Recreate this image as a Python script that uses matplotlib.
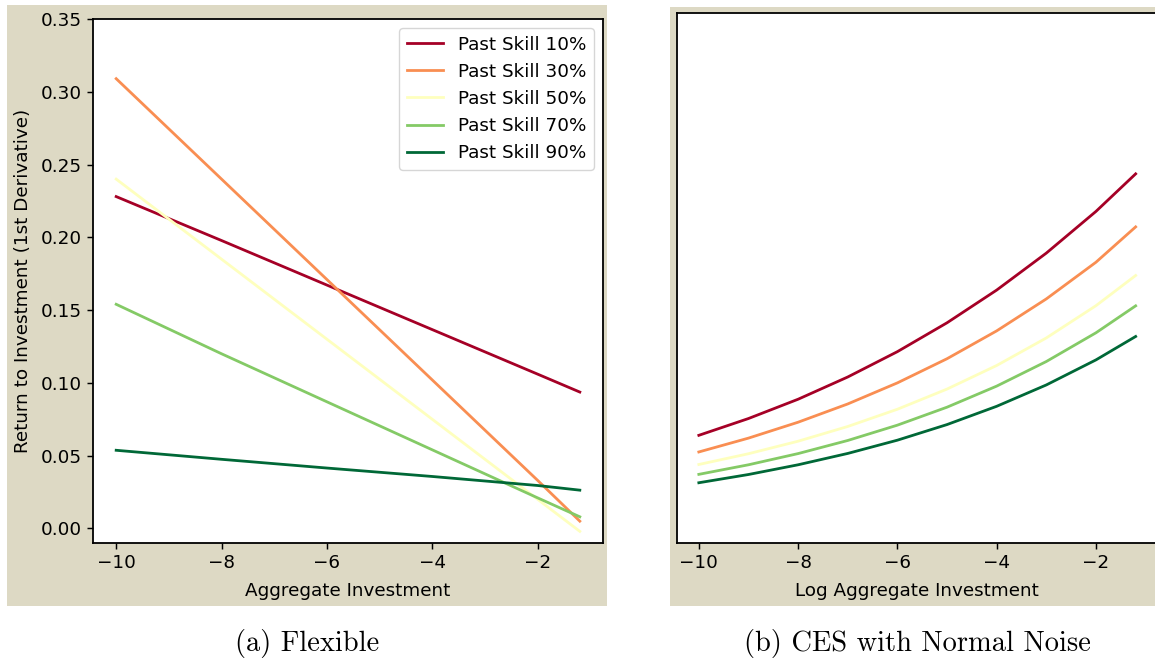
import numpy as np
import matplotlib
matplotlib.use("Agg")
import matplotlib.pyplot as plt
from matplotlib.patches import Rectangle

# ---------------- data ----------------
etiquetas = ["Past Skill 10%", "Past Skill 30%", "Past Skill 50%",
             "Past Skill 70%", "Past Skill 90%"]

# panel (a) Flexible
x_flex = [-10, -8, -6, -4, -2, -1.2]
flex_10 = [0.228, 0.1978, 0.1672, 0.1366, 0.1060, 0.0937]
flex_30 = [0.309, 0.240, 0.171, 0.102, 0.033, 0.005]
flex_50 = [0.240, 0.185, 0.130, 0.075, 0.020, -0.002]
flex_70 = [0.154, 0.120, 0.087, 0.054, 0.021, 0.008]
flex_90 = [0.0537, 0.0475, 0.0415, 0.0357, 0.0295, 0.0263]

# panel (b) CES with Normal Noise
x_ces = [-10, -9, -8, -7, -6, -5, -4, -3, -2, -1.2]
ces_10 = [0.0631, 0.0745, 0.0876, 0.1027, 0.1199, 0.1395, 0.1617, 0.1868, 0.2151, 0.2406]
ces_30 = [0.0518, 0.0612, 0.0720, 0.0844, 0.0987, 0.1151, 0.1340, 0.1557, 0.1806, 0.2046]
ces_50 = [0.0433, 0.0506, 0.0591, 0.0691, 0.0808, 0.0945, 0.1105, 0.1292, 0.1511, 0.1716]
ces_70 = [0.0366, 0.0431, 0.0507, 0.0596, 0.0700, 0.0822, 0.0965, 0.1132, 0.1327, 0.1510]
ces_90 = [0.0309, 0.0365, 0.0431, 0.0508, 0.0598, 0.0704, 0.0828, 0.0973, 0.1143, 0.1302]

colores = plt.cm.RdYlGn(np.linspace(0, 1, 5))
beige = "#ddd9c4"

W, H = 1155, 659
fig = plt.figure(figsize=(W / 100, H / 100), dpi=100)
fig.patch.set_facecolor("white")


def caja(x0, y0, x1, y1):
    # pixel box (top-down) -> figure fraction
    return [x0 / W, 1 - y1 / H, (x1 - x0) / W, (y1 - y0) / H]


# fondos beige de cada panel
for x0, y0, x1, y1 in [(7, 5, 607, 606), (670, 7, 1160, 606)]:
    l, b, w, h = caja(x0, y0, x1, y1)
    fig.patches.append(Rectangle((l, b), w, h, transform=fig.transFigure,
                                 facecolor=beige, edgecolor="none", zorder=-10))

fs = 13.2
lw = 2.0

ax1 = fig.add_axes(caja(93, 19, 603, 543))
ax2 = fig.add_axes(caja(677, 12.7, 1157.5, 543))

for y, c, lab in zip([flex_10, flex_30, flex_50, flex_70, flex_90], colores, etiquetas):
    ax1.plot(x_flex, y, color=c, lw=lw, label=lab)

for y, c in zip([ces_10, ces_30, ces_50, ces_70, ces_90], colores):
    ax2.plot(x_ces, y, color=c, lw=lw)

for ax in (ax1, ax2):
    ax.set_zorder(5)
    ax.set_facecolor("white")
    ax.set_xlim(-10.44, -0.76)
    ax.set_ylim(-0.01, 0.35)
    ax.set_xticks([-10, -8, -6, -4, -2])
    ax.tick_params(labelsize=fs, length=4.6, width=1.05)
    for s in ax.spines.values():
        s.set_linewidth(1.3)

ax1.set_yticks([0.0, 0.05, 0.10, 0.15, 0.20, 0.25, 0.30, 0.35])
ax1.yaxis.set_major_formatter(matplotlib.ticker.FormatStrFormatter("%.2f"))
ax2.set_yticks([])

ax1.set_xlabel("Aggregate Investment", fontsize=fs, labelpad=7)
ax1.set_ylabel("Return to Investment (1st Derivative)", fontsize=fs, labelpad=6)
ax2.set_xlabel("Log Aggregate Investment", fontsize=fs, labelpad=7)

ax1.legend(loc="upper right", fontsize=fs, handlelength=2.0, borderpad=0.4,
           labelspacing=0.5, borderaxespad=0.5, framealpha=0.8)

fig.text(307 / W, 1 - 643 / H, "(a) Flexible", fontfamily="cmr10",
         fontsize=20.5, ha="center", va="center")
fig.text(917 / W, 1 - 643 / H, "(b) CES with Normal Noise", fontfamily="cmr10",
         fontsize=20.5, ha="center", va="center")

fig.savefig("out.png", dpi=100)
